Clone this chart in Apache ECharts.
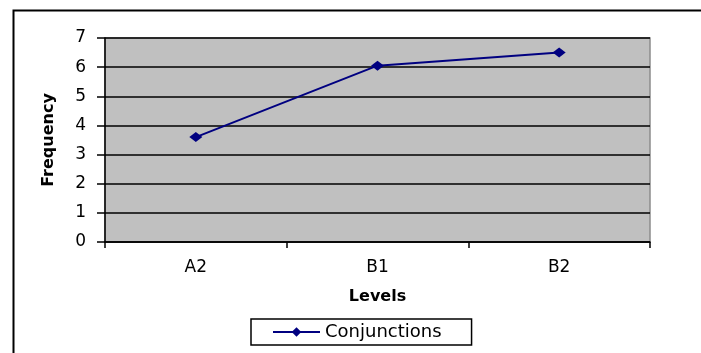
<!DOCTYPE html>
<html>
<head>
<meta charset="utf-8">
<script src="https://cdn.jsdelivr.net/npm/echarts@6/dist/echarts.min.js"></script>
<style>html,body{margin:0;padding:0;background:#fff;}#c{width:701px;height:353px;}</style>
</head>
<body>
<div id="c"></div>
<script>
const categories = ['A2', 'B1', 'B2'];
const conjunctions = [3.6, 6.05, 6.5];
const yTicks = [0, 1, 2, 3, 4, 5, 6, 7];
const seriesName = 'Conjunctions';

const FONT = 'DejaVu Sans';
const chart = echarts.init(document.getElementById('c'), null, {renderer: 'canvas'});
chart.setOption({
  animation: false,
  backgroundColor: '#fff',
  textStyle: {fontFamily: FONT},
  graphic: [{
    type: 'rect', left: 11, top: 8, silent: true, z: -1,
    shape: {x: 0, y: 0, width: 720, height: 380},
    style: {fill: 'none', stroke: '#000', lineWidth: 2}
  }],
  grid: {
    left: 105, right: 51, top: 38, bottom: 111,
    show: true, backgroundColor: '#c0c0c0', borderColor: '#8c8c8c', borderWidth: 1.5
  },
  legend: {
    left: 251, top: 319,
    data: [seriesName],
    backgroundColor: '#fff', borderColor: '#000', borderWidth: 1.5,
    padding: [4, 30, 4, 21],
    itemWidth: 47, itemHeight: 12,
    textStyle: {fontFamily: FONT, fontSize: 18, color: '#000'}
  },
  xAxis: {
    type: 'category',
    data: categories,
    boundaryGap: true,
    name: 'Levels', nameLocation: 'middle', nameGap: 47,
    nameTextStyle: {fontFamily: FONT, fontSize: 16, fontWeight: 'bold', color: '#000'},
    axisLine: {lineStyle: {color: '#000', width: 1.5}},
    axisTick: {show: true, length: 6, inside: false, alignWithLabel: false, lineStyle: {color: '#000', width: 1.5}},
    axisLabel: {fontFamily: FONT, fontSize: 17, color: '#000', margin: 17},
    splitLine: {show: false}
  },
  yAxis: {
    type: 'value',
    min: yTicks[0], max: yTicks[yTicks.length - 1], interval: 1,
    name: 'Frequency', nameLocation: 'middle', nameGap: 48, nameRotate: 90,
    nameTextStyle: {fontFamily: FONT, fontSize: 16, fontWeight: 'bold', color: '#000'},
    axisLine: {show: true, lineStyle: {color: '#000', width: 1.5}},
    axisTick: {show: true, length: 8, lineStyle: {color: '#000', width: 1.5}},
    axisLabel: {fontFamily: FONT, fontSize: 17, color: '#000', margin: 19},
    splitLine: {show: true, lineStyle: {color: '#000', width: 1.5}}
  },
  series: [{
    name: seriesName,
    type: 'line',
    data: conjunctions,
    symbol: 'diamond', symbolSize: [13, 10],
    lineStyle: {color: '#000080', width: 2},
    itemStyle: {color: '#000080'}
  }]
});
</script>
</body>
</html>
